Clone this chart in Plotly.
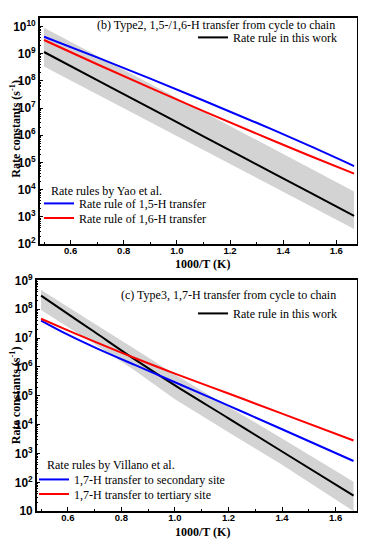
import plotly.graph_objects as go

# ---------------- data (log10 of k in s^-1) ----------------
# panel (b): x = 1000/T (K)
x_b = [0.500, 0.700, 0.900, 1.100, 1.300, 1.500, 1.667]
logk_b_yao15 = [9.62, 8.86, 8.08, 7.28, 6.46, 5.61, 4.87]
logk_b_yao16 = [9.50, 8.61, 7.74, 6.89, 6.06, 5.25, 4.59]
logk_b_this = [9.06, 8.03, 7.00, 5.96, 4.93, 3.90, 3.04]
logk_b_upper = [9.95, 8.92, 7.89, 6.86, 5.83, 4.80, 3.94]
logk_b_lower = [8.53, 7.51, 6.48, 5.46, 4.44, 3.41, 2.56]

# panel (c)
x_c = [0.500, 0.600, 0.700, 0.850, 1.000, 1.200, 1.400, 1.667]
logk_c_sec = [7.61, 7.12, 6.68, 6.07, 5.47, 4.66, 3.84, 2.74]
logk_c_ter = [7.67, 7.27, 6.88, 6.31, 5.77, 5.08, 4.38, 3.45]
logk_c_this = [8.47, 7.84, 7.21, 6.26, 5.36, 4.22, 3.07, 1.54]
logk_c_upper = [8.67, 8.10, 7.50, 6.62, 5.74, 4.62, 3.52, 2.02]
logk_c_lower = [7.97, 7.39, 6.80, 5.88, 4.88, 3.74, 2.61, 1.00]

x_ticks = [0.6, 0.8, 1.0, 1.2, 1.4, 1.6]
x_range = [0.483, 1.678]
y_range_b = [2, 10.31]
y_range_c = [1, 9]

title_b = "(b) Type2, 1,5-/1,6-H transfer from cycle to chain"
title_c = "(c) Type3, 1,7-H transfer from cycle to chain"
y_title = "Rate constants (s<sup>-1</sup>)"
x_title = "1000/T (K)"

# ---------------- styles ----------------
SERIF = "Liberation Serif, Times New Roman, serif"
SANS = "Liberation Sans, Arial, sans-serif"
GRAY = "#d3d3d3"
BLUE = "#0000ff"
RED = "#ff0000"
W = 366
H = 550


def px(v):
    return v / W


def py(v):
    return 1 - v / H


def k(logs):
    return [10 ** v for v in logs]


fig = go.Figure()


def band(x, lo, up, xa, ya):
    fig.add_trace(go.Scatter(x=x, y=k(lo), mode="lines", line=dict(width=0, color=GRAY),
                             showlegend=False, hoverinfo="skip", xaxis=xa, yaxis=ya))
    fig.add_trace(go.Scatter(x=x, y=k(up), mode="lines", line=dict(width=0, color=GRAY),
                             fill="tonexty", fillcolor=GRAY,
                             showlegend=False, hoverinfo="skip", xaxis=xa, yaxis=ya))


def curve(x, y, color, name, xa, ya, legend):
    fig.add_trace(go.Scatter(x=x, y=k(y), mode="lines", name=name,
                             line=dict(color=color, width=2, shape="spline", smoothing=1.0),
                             xaxis=xa, yaxis=ya, legend=legend))


band(x_b, logk_b_lower, logk_b_upper, "x", "y")
curve(x_b, logk_b_this, "black", "Rate rule in this work", "x", "y", "legend")
curve(x_b, logk_b_yao15, BLUE, "Rate rule of 1,5-H transfer", "x", "y", "legend2")
curve(x_b, logk_b_yao16, RED, "Rate rule of 1,6-H transfer", "x", "y", "legend3")

band(x_c, logk_c_lower, logk_c_upper, "x2", "y2")
curve(x_c, logk_c_this, "black", "Rate rule in this work", "x2", "y2", "legend4")
curve(x_c, logk_c_sec, BLUE, "1,7-H transfer to secondary site", "x2", "y2", "legend5")
curve(x_c, logk_c_ter, RED, "1,7-H transfer to tertiary site", "x2", "y2", "legend6")


def xaxis(domain, anchor):
    return dict(domain=domain, anchor=anchor, range=x_range, tickvals=x_ticks,
                ticktext=[f"{v:.1f}" for v in x_ticks],
                ticks="inside", ticklen=4, tickwidth=1.2, tickcolor="black",
                minor=dict(ticks="inside", ticklen=2.5, dtick=0.1, tick0=0.5, tickcolor="black"),
                showline=True, linecolor="black", linewidth=1.8, mirror=True,
                showgrid=False, zeroline=False, ticklabelstandoff=-3,
                tickfont=dict(family=SANS, size=9.5, color="black", weight="bold"))


def yaxis(domain, anchor, rng):
    return dict(domain=domain, anchor=anchor, type="log", range=rng, dtick=1,
                exponentformat="power", showexponent="all",
                ticks="inside", ticklen=4, tickwidth=1.2, tickcolor="black",
                minor=dict(ticks="inside", ticklen=2, tickcolor="black"),
                showline=True, linecolor="black", linewidth=1.8, mirror=True,
                showgrid=False, zeroline=False,
                tickfont=dict(family=SANS, size=9.5, color="black", weight="bold"))


leg_font = dict(family=SERIF, size=12, color="black")
title_font = dict(family=SERIF, size=12, color="black", weight="bold")


def leg(x, y):
    return dict(x=px(x), y=py(y), xanchor="left", yanchor="middle",
                bgcolor="rgba(0,0,0,0)", font=leg_font)


def note(text, x, y, **kw):
    d = dict(text=text, xref="paper", yref="paper", x=px(x), y=py(y),
             xanchor="left", yanchor="middle", showarrow=False, font=leg_font)
    d.update(kw)
    return d


# The page body adds an 8 px offset; positions below are in figure pixels.
fig.update_layout(
    width=W, height=H, margin=dict(l=0, r=0, t=0, b=0),
    paper_bgcolor="white", plot_bgcolor="white",
    xaxis=xaxis([px(31.5), px(349)], "y"),
    yaxis=yaxis([py(234), py(1)], "x", y_range_b),
    xaxis2=xaxis([px(28.5), px(348.5)], "y2"),
    yaxis2=yaxis([py(509), py(271.3)], "x2", y_range_c),
    legend=leg(185, 21),
    legend2=leg(31, 192),
    legend3=leg(31, 207),
    legend4=leg(185, 305.3),
    legend5=leg(26, 476.3),
    legend6=leg(26, 491.3),
    annotations=[
        note(title_b, 87, 8.5),
        note(title_c, 111, 286),
        note("Rate rules by Yao et al.", 41, 179.3),
        note("Rate rules by Villano et al.", 37, 461.3),
        note(y_title, 7.5, 115.5, textangle=-90, xanchor="center", font=title_font),
        note(y_title, 7.5, 390, textangle=-90, xanchor="center", font=title_font),
        note(x_title, 194, 254.5, xanchor="center", font=title_font),
        note(x_title, 194, 530.5, xanchor="center", font=title_font),
    ],
)

fig.write_html("out.html")
